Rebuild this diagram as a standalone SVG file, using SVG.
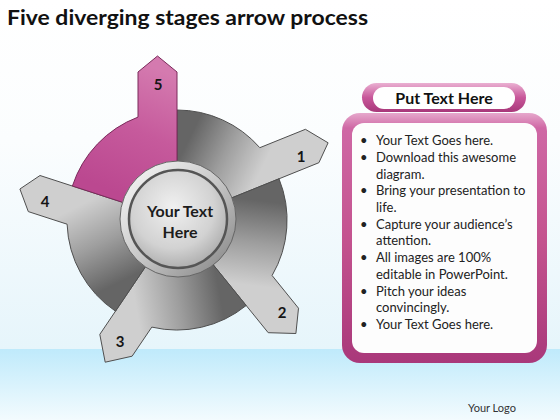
<svg xmlns="http://www.w3.org/2000/svg" width="560" height="420" viewBox="0 0 560 420">
<defs>
<style>
.title{font-family:Lato,"Liberation Sans",sans-serif;font-weight:bold;font-size:21px;fill:#111}
.num{font-family:Lato,"Liberation Sans",sans-serif;font-weight:bold;font-size:15px;fill:#151515;text-anchor:middle}
.ctr{font-family:Lato,"Liberation Sans",sans-serif;font-weight:bold;font-size:16px;fill:#1c1c1c;text-anchor:middle}
.hdr{font-family:Lato,"Liberation Sans",sans-serif;font-weight:bold;font-size:16px;fill:#111;text-anchor:middle}
.body{font-family:Lato,"Liberation Sans",sans-serif;font-size:13px;fill:#222}
.logo{font-family:Lato,"Liberation Sans",sans-serif;font-size:11px;fill:#333}
.seg{stroke:#4f4f4f;stroke-width:1;stroke-linejoin:round}
.pseg{stroke:#7a2a5a;stroke-width:1;stroke-linejoin:round}
</style>
<linearGradient id="bgTop" x1="0" y1="0" x2="0" y2="1">
<stop offset="0" stop-color="#ffffff"/><stop offset="0.4" stop-color="#fbfdfe"/><stop offset="1" stop-color="#e6f5fb"/>
</linearGradient>
<linearGradient id="bgBot" x1="0" y1="0" x2="0" y2="1">
<stop offset="0" stop-color="#bfeafb"/><stop offset="1" stop-color="#f3fbfe"/>
</linearGradient>
<linearGradient id="gray" gradientUnits="userSpaceOnUse">
<stop offset="0" stop-color="#656565"/><stop offset="0.5" stop-color="#9e9e9e"/><stop offset="1" stop-color="#cfcfcf"/>
</linearGradient>
<linearGradient id="g1" href="#gray" x1="192.6" y1="131.4" x2="263" y2="165.8"/>
<linearGradient id="g2" href="#gray" x1="265" y1="201.3" x2="254.7" y2="285.8"/>
<linearGradient id="g3" href="#gray" x1="220.6" y1="298.7" x2="137.3" y2="313.8"/>
<linearGradient id="g4" href="#gray" x1="114.5" y1="284.7" x2="76" y2="207.2"/>
<linearGradient id="g5" gradientUnits="userSpaceOnUse" x1="110" y1="190" x2="160" y2="70">
<stop offset="0" stop-color="#bb4890"/><stop offset="0.5" stop-color="#c65a9c"/><stop offset="1" stop-color="#d47aaf"/>
</linearGradient>
<linearGradient id="ring" x1="0" y1="0" x2="1" y2="1">
<stop offset="0" stop-color="#fdfdfd"/><stop offset="0.5" stop-color="#c8c8c8"/><stop offset="1" stop-color="#808080"/>
</linearGradient>
<radialGradient id="disk" cx="0.45" cy="0.38" r="0.7">
<stop offset="0" stop-color="#f0f0f0"/><stop offset="0.6" stop-color="#d2d2d2"/><stop offset="1" stop-color="#a2a2a2"/>
</radialGradient>
<linearGradient id="pinkV" x1="0" y1="0" x2="0" y2="1">
<stop offset="0" stop-color="#eab0d2"/><stop offset="0.5" stop-color="#c8579a"/><stop offset="1" stop-color="#a8387a"/>
</linearGradient>
<linearGradient id="pinkBox" x1="0" y1="0" x2="0" y2="1">
<stop offset="0" stop-color="#e6a8cc"/><stop offset="0.06" stop-color="#cf68a5"/><stop offset="0.5" stop-color="#c4538f"/><stop offset="1" stop-color="#a9387a"/>
</linearGradient>
</defs>

<rect x="0" y="0" width="560" height="350" fill="url(#bgTop)"/>
<rect x="0" y="349" width="560" height="71" fill="url(#bgBot)"/>

<text class="title" x="7" y="25" textLength="361" lengthAdjust="spacingAndGlyphs">Five diverging stages arrow process</text>

<g id="connectors"></g>

<g id="seg1">
<path class="seg" fill="url(#g1)" d="M177,220 L318.9,162.7 L328.1,142.8 L305.4,129.3 L259.8,147.7 A110,110 0 0 0 177,110 Z"/>
<text class="num" x="301" y="162">1</text>
</g>
<g id="seg2">
<path class="seg" fill="url(#g2)" d="M177,220 L268.2,332.7 L295.9,333.5 L298.5,308.2 L272.1,275.5 A110,110 0 0 0 279,178.8 Z"/>
<text class="num" x="282" y="318">2</text>
</g>
<g id="seg3">
<path class="seg" fill="url(#g3)" d="M177,220 L99.8,334.4 L105.2,362.2 L132.1,356.2 L151.8,327.1 A110,110 0 0 0 246.2,305.5 Z"/>
<text class="num" x="120" y="347">3</text>
</g>
<g id="seg4">
<path class="seg" fill="url(#g4)" d="M177,220 L40,175.5 L19.9,189 L28.3,211.6 L67.1,224.2 A110,110 0 0 0 115.5,311.2 Z"/>
<text class="num" x="45" y="207">4</text>
</g>
<g id="seg5">
<path class="pseg" fill="url(#g5)" d="M177,220 L177,72 L157.5,56 L138,72 L138,117.1 A110,110 0 0 0 72.4,186 Z"/>
<text class="num" x="158" y="90">5</text>
</g>

<g id="center">
<circle cx="178" cy="219" r="58" fill="url(#ring)" stroke="#666" stroke-width="1"/>
<circle cx="178" cy="219" r="49" fill="url(#disk)" stroke="#555" stroke-width="2.5"/>
<text class="ctr" x="180" y="217">Your Text</text>
<text class="ctr" x="180" y="238">Here</text>
</g>

<g id="header">
<rect x="362" y="83" width="164" height="29" rx="14.5" fill="url(#pinkV)"/>
<rect x="373" y="87" width="142" height="22" rx="11" fill="#ffffff"/>
<text class="hdr" x="444" y="104">Put Text Here</text>
</g>

<g id="textbox">
<rect x="342" y="113" width="205" height="250" rx="18" fill="url(#pinkBox)"/>
<rect x="352" y="123" width="185" height="230" rx="12" fill="#fdfdfd"/>
<g class="body">
<text x="360" y="145">•</text><text x="376" y="145">Your Text Goes here.</text>
<text x="360" y="161.7">•</text><text x="376" y="161.7">Download this awesome</text>
<text x="376" y="178.5">diagram.</text>
<text x="360" y="195.2">•</text><text x="376" y="195.2">Bring your presentation to</text>
<text x="376" y="211.9">life.</text>
<text x="360" y="228.7">•</text><text x="376" y="228.7">Capture your audience’s</text>
<text x="376" y="245.4">attention.</text>
<text x="360" y="262.1">•</text><text x="376" y="262.1">All images are 100%</text>
<text x="376" y="278.8">editable in PowerPoint.</text>
<text x="360" y="295.6">•</text><text x="376" y="295.6">Pitch your ideas</text>
<text x="376" y="312.3">convincingly.</text>
<text x="360" y="329">•</text><text x="376" y="329">Your Text Goes here.</text>
</g>
</g>

<text class="logo" x="468" y="412">Your Logo</text>
</svg>
